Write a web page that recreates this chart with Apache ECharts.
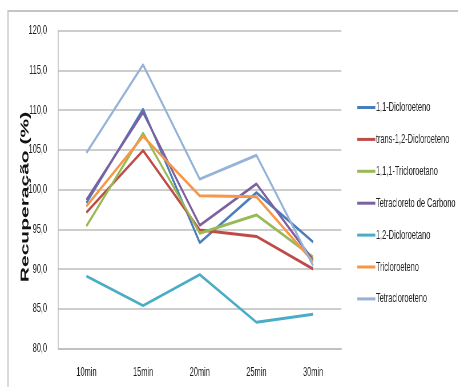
<!DOCTYPE html>
<html>
<head>
<meta charset="utf-8">
<script src="https://cdn.jsdelivr.net/npm/echarts@6/dist/echarts.min.js"></script>
<style>
  html, body { margin: 0; padding: 0; background: #fff; overflow: hidden; }
  #frame { width: 458px; height: 387px; overflow: hidden; position: relative; }
  /* chart is laid out wide and compressed horizontally */
  #chart { position: absolute; left: 0; top: 0; height: 387px; transform-origin: 0 0; }
</style>
</head>
<body>
<div id="frame"><div id="chart"></div></div>
<script>
// Sampling times
const categories = ['10min', '15min', '20min', '25min', '30min'];

// Recovery (%) per compound
const dicloroeteno11 = [98.3, 110.1, 93.3, 99.6, 93.4];
const transDicloroeteno12 = [97.1, 104.9, 94.9, 94.1, 90.0];
const tricloroetano111 = [95.4, 107.1, 94.5, 96.8, 91.5];
const tetracloretoCarbono = [98.7, 109.7, 95.5, 100.7, 91.1];
const dicloroetano12 = [89.1, 85.4, 89.3, 83.3, 84.3];
const tricloroeteno = [97.9, 106.7, 99.2, 99.1, 90.9];
const tetracloroeteno = [104.6, 115.7, 101.3, 104.3, 90.4];

const seriesNames = [
  '1,1-Dicloroeteno',
  'trans-1,2-Dicloroeteno',
  '1,1,1-Tricloroetano',
  'Tetracloreto de Carbono',
  '1,2-Dicloroetano',
  'Tricloroeteno',
  'Tetracloroeteno'
];
const seriesValues = [
  dicloroeteno11, transDicloroeteno12, tricloroetano111, tetracloretoCarbono,
  dicloroetano12, tricloroeteno, tetracloroeteno
];
const colors = ['#4A7EBB', '#BE4B48', '#98B954', '#7D60A0', '#4BACC6', '#F79646', '#95B3D7'];

// Horizontal compression of the drawing
const SX = 0.57;
const W = 458 / SX;
const px = x => x / SX;   // on-screen x -> layout x

const el = document.getElementById('chart');
el.style.width = W + 'px';
el.style.transform = 'scaleX(' + SX + ')';

const font = '"Liberation Sans", Arial, sans-serif';

const chart = echarts.init(el, null, { renderer: 'canvas', width: W, height: 387 });
chart.setOption({
  animation: false,
  color: colors,
  graphic: [
    {
      type: 'rect',
      shape: { x: px(8), y: 11, width: W, height: 400 },
      style: { fill: 'none', stroke: '#C4C4C4', lineWidth: 2 },
      silent: true
    },
    {
      type: 'text',
      x: px(25),
      y: 197,
      rotation: Math.PI / 2,
      style: {
        text: 'Recuperação (%)',
        font: 'bold 21px "Liberation Sans", Arial, sans-serif',
        fill: '#111',
        align: 'center',
        verticalAlign: 'middle'
      },
      silent: true
    }
  ],
  grid: { left: px(58), right: W - px(341), top: 30.5, bottom: 38.5 },
  legend: {
    orient: 'vertical',
    left: px(354),
    top: 96,
    itemWidth: px(18),
    itemHeight: 3,
    itemGap: 18.9,
    icon: 'rect',
    textStyle: { fontFamily: font, fontSize: 13, color: '#222', padding: [0, 0, 0, -4] },
    data: seriesNames
  },
  xAxis: {
    type: 'category',
    data: categories,
    boundaryGap: true,
    axisLine: { lineStyle: { color: '#BDBDBD', width: 1.5 } },
    axisTick: { show: false },
    axisLabel: { fontFamily: font, fontSize: 13, color: '#222', margin: 17 }
  },
  yAxis: {
    type: 'value',
    min: 80,
    max: 120,
    interval: 5,
    axisLine: { show: true, lineStyle: { color: '#BDBDBD', width: 1.5 } },
    axisTick: { show: false },
    splitLine: { lineStyle: { color: '#BDBDBD', width: 1.5 } },
    axisLabel: {
      fontFamily: font,
      fontSize: 13,
      color: '#222',
      margin: px(11),
      formatter: v => v.toFixed(1).replace('.', ',')
    }
  },
  series: seriesNames.map((name, i) => ({
    name,
    type: 'line',
    data: seriesValues[i],
    symbol: 'none',
    lineStyle: { width: 3, color: colors[i] },
    itemStyle: { color: colors[i] }
  }))
});
</script>
</body>
</html>
